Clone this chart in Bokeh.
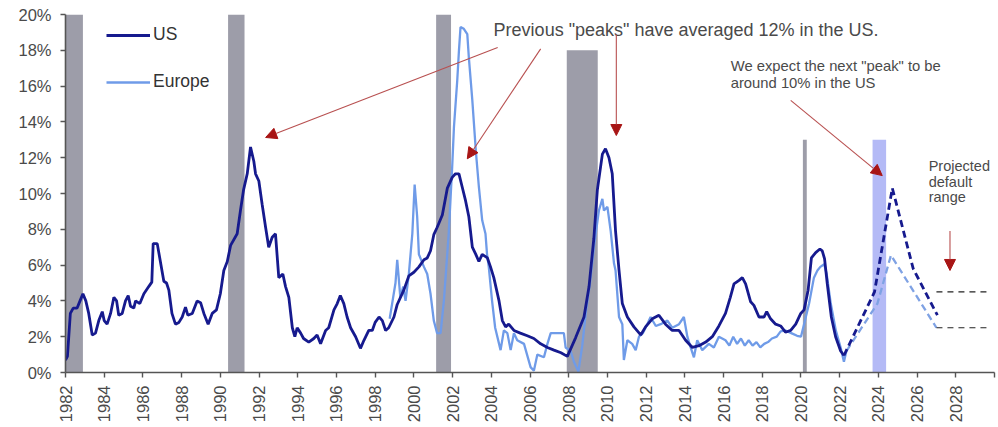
import numpy as np
from bokeh.plotting import figure
from bokeh.models import (FixedTicker, PrintfTickFormatter, Label, Arrow, NormalHead,
                          Legend, LegendItem, Range1d)
from bokeh.embed import file_html
from bokeh.resources import INLINE

# ---------------- data ----------------
us_year = [1982.0, 1982.1, 1982.25, 1982.4, 1982.6, 1982.75, 1982.9, 1983.05, 1983.2, 1983.38,
           1983.55, 1983.72, 1983.9, 1984.0, 1984.15, 1984.33, 1984.5, 1984.64, 1984.75, 1984.93,
           1985.1, 1985.24, 1985.36, 1985.53, 1985.62, 1985.84, 1986.05, 1986.3, 1986.46, 1986.53,
           1986.74, 1986.87, 1987.08, 1987.22, 1987.34, 1987.5, 1987.68, 1987.86, 1988.03, 1988.2,
           1988.32, 1988.55, 1988.8, 1988.98, 1989.15, 1989.37, 1989.58, 1989.8, 1990.0, 1990.18,
           1990.36, 1990.53, 1990.87, 1991.04, 1991.2, 1991.39, 1991.56, 1991.73, 1991.82, 1991.99,
           1992.16, 1992.34, 1992.5, 1992.68, 1992.85, 1993.02, 1993.23, 1993.37, 1993.54, 1993.72,
           1993.85, 1993.97, 1994.15, 1994.3, 1994.57, 1994.83, 1995.0, 1995.18, 1995.44, 1995.6,
           1995.87, 1996.04, 1996.2, 1996.38, 1996.55, 1996.73, 1996.99, 1997.24, 1997.42, 1997.67,
           1997.85, 1998.0, 1998.2, 1998.37, 1998.54, 1998.7, 1998.97, 1999.14, 1999.48, 1999.74,
           2000.0, 2000.26, 2000.52, 2000.69, 2000.86, 2001.03, 2001.2, 2001.47, 2001.73, 2001.98,
           2002.15, 2002.33, 2002.5, 2002.67, 2002.84, 2003.02, 2003.2, 2003.36, 2003.53, 2003.8,
           2003.96, 2004.13, 2004.4, 2004.57, 2004.74, 2004.9, 2005.17, 2005.5, 2005.86, 2006.2,
           2006.55, 2006.9, 2007.24, 2007.6, 2007.93, 2008.36, 2008.79, 2009.05, 2009.3, 2009.48,
           2009.74, 2009.9, 2010.08, 2010.25, 2010.42, 2010.6, 2010.77, 2011.03, 2011.37, 2011.72,
           2011.97, 2012.32, 2012.66, 2013.0, 2013.35, 2013.7, 2014.04, 2014.39, 2014.73, 2015.08,
           2015.42, 2015.76, 2016.1, 2016.35, 2016.54, 2016.8, 2016.97, 2017.14, 2017.4, 2017.57,
           2017.83, 2018.09, 2018.23, 2018.43, 2018.69, 2018.95, 2019.2, 2019.47, 2019.73, 2019.99,
           2020.16, 2020.37, 2020.54, 2020.76, 2020.98, 2021.1, 2021.22, 2021.36, 2021.57, 2021.79,
           2022.05, 2022.22]
us_val = [0.7, 0.9, 3.3, 3.6, 3.6, 4.0, 4.4, 4.0, 3.3, 2.1,
          2.2, 2.9, 3.4, 2.9, 2.7, 3.3, 4.2, 4.0, 3.2, 3.3,
          4.0, 4.3, 3.7, 3.6, 4.0, 3.85, 4.4, 4.8, 5.05, 7.2,
          7.2, 6.4, 5.1, 5.0, 4.6, 3.3, 2.7, 2.8, 3.1, 3.65,
          3.2, 3.3, 4.0, 3.9, 3.3, 2.7, 3.3, 3.5, 4.4, 5.7,
          6.2, 7.1, 7.75, 9.05, 10.2, 11.1, 12.6, 11.8, 11.1, 10.7,
          9.4, 8.1, 7.0, 7.56, 7.75, 5.3, 5.5, 4.8, 4.2, 2.5,
          2.0, 2.5, 2.2, 1.9, 1.7, 1.9, 2.1, 1.6, 2.35, 2.5,
          3.5, 3.85, 4.3, 3.85, 3.1, 2.5, 2.0, 1.35, 1.8, 2.35,
          2.35, 2.8, 3.1, 2.9, 2.35, 2.5, 3.1, 3.8, 4.6, 5.4,
          5.6, 5.9, 6.3, 6.4, 6.8, 7.7, 8.1, 8.8, 10.3, 10.9,
          11.1, 11.1, 10.35, 9.6, 8.7, 7.0, 6.6, 6.2, 6.6, 6.4,
          5.9, 5.3, 4.0, 2.9, 2.55, 2.7, 2.35, 2.2, 2.05, 1.9,
          1.6, 1.4, 1.25, 1.1, 0.9, 1.95, 3.1, 4.8, 7.5, 10.2,
          12.2, 12.5, 12.0, 11.1, 7.9, 5.7, 3.85, 3.1, 2.55, 2.1,
          2.55, 3.0, 3.2, 2.7, 2.35, 2.35, 1.8, 1.4, 1.5, 1.7,
          2.0, 2.6, 3.3, 4.2, 4.95, 5.15, 5.3, 4.95, 3.95, 3.75,
          3.1, 3.1, 3.4, 3.0, 2.7, 2.6, 2.25, 2.35, 2.7, 3.3,
          3.5, 4.6, 6.4, 6.7, 6.9, 6.8, 6.35, 4.95, 3.1, 2.0,
          1.2, 0.95]

eu_year = [1998.75, 1998.9, 1999.05, 1999.14, 1999.3, 1999.45, 1999.57, 1999.74, 1999.92, 2000.04,
           2000.17, 2000.26, 2000.52, 2000.69, 2000.86, 2001.03, 2001.2, 2001.38, 2001.55, 2001.8,
           2001.98, 2002.07, 2002.24, 2002.33, 2002.41, 2002.58, 2002.76, 2002.84, 2003.02, 2003.2,
           2003.36, 2003.53, 2003.7, 2003.78, 2003.87, 2004.04, 2004.2, 2004.48, 2004.65, 2004.83,
           2005.0, 2005.17, 2005.34, 2005.69, 2006.03, 2006.2, 2006.38, 2006.72, 2006.9, 2007.07,
           2007.32, 2007.75, 2007.84, 2008.1, 2008.27, 2008.5, 2008.7, 2008.9, 2009.1, 2009.3,
           2009.56, 2009.74, 2009.82, 2010.0, 2010.17, 2010.34, 2010.42, 2010.6, 2010.77, 2010.85,
           2011.03, 2011.28, 2011.46, 2011.63, 2011.83, 2012.06, 2012.23, 2012.5, 2012.75, 2013.1,
           2013.35, 2013.7, 2013.95, 2014.13, 2014.3, 2014.47, 2014.64, 2014.9, 2015.24, 2015.5,
           2015.76, 2016.1, 2016.3, 2016.5, 2016.7, 2016.9, 2017.1, 2017.3, 2017.5, 2017.7,
           2017.9, 2018.1, 2018.3, 2018.5, 2018.75, 2018.95, 2019.2, 2019.5, 2019.8, 2020.0,
           2020.16, 2020.42, 2020.67, 2020.85, 2021.0, 2021.2, 2021.33, 2021.54, 2021.8, 2022.05,
           2022.22, 2022.35]
eu_val = [3.0, 4.0, 5.0, 6.3, 4.2, 4.8, 4.0, 5.5, 7.75, 10.5,
          8.7, 6.6, 5.9, 5.5, 4.4, 2.9, 2.2, 2.2, 4.0, 7.75,
          11.5, 13.7, 16.3, 18.0, 19.3, 19.2, 18.9, 17.6, 15.2, 12.4,
          10.35, 8.5, 7.75, 6.6, 5.9, 4.0, 2.5, 1.25, 2.35, 2.2,
          1.25, 2.2, 1.8, 1.6, 0.3, 0.1, 1.0, 0.85, 1.6, 2.2,
          2.2, 2.2, 1.4, 1.2, 0.6, 0.05, 1.5, 3.5, 5.0, 7.0,
          9.05, 9.7, 9.05, 9.25, 7.9, 6.1, 5.7, 3.1, 2.7, 0.7,
          1.8, 1.6, 1.25, 2.0, 2.2, 2.7, 3.1, 2.6, 2.7, 2.9,
          2.5, 2.7, 3.1, 2.0, 1.4, 0.85, 1.8, 1.25, 1.6, 1.4,
          2.0, 1.8, 1.5, 2.0, 1.6, 1.9, 1.5, 1.8, 1.5, 1.7,
          1.4, 1.6, 1.7, 1.9, 2.0, 2.3, 2.35, 2.2, 2.05, 2.0,
          2.7, 3.85, 5.3, 5.7, 5.9, 6.05, 5.5, 3.85, 2.35, 1.4,
          0.6, 1.2]

us_proj_year = [2022.22, 2023.8, 2024.72, 2025.8, 2027.05]
us_proj_val = [0.95, 4.5, 10.3, 5.8, 3.2]
eu_proj_year = [2022.35, 2023.95, 2024.65, 2027.0]
eu_proj_val = [1.2, 3.85, 6.55, 2.5]

range_start = [2027.0, 2027.0]
range_end = [2029.75, 2029.75]
range_levels = [4.5, 2.5]

rec_start = [1982.0, 1990.4, 2001.15, 2007.9, 2020.1]
rec_end = [1982.9, 1991.25, 2001.92, 2009.5, 2020.3]
rec_top = [20, 20, 20, 18, 13]
proj_bar_start = [2023.7]
proj_bar_end = [2024.4]
proj_bar_top = [13]

x_ticks = list(range(1982, 2031, 2))
x_labels = {t: (str(t) if t <= 2028 else "") for t in x_ticks}
y_ticks = list(range(0, 21, 2))

FONT = "Liberation Sans"
TXT = "#4a4a4a"
US_C = "#161a8e"
EU_C = "#6f9be8"
ARROW_C = "#b85050"
HEAD_C = "#a81515"

# ---------------- figure ----------------
p = figure(width=998, height=427, x_range=Range1d(1982, 2030), y_range=Range1d(0, 20),
           output_backend="svg", toolbar_location=None,
           min_border_left=65, min_border_right=4, min_border_top=14, min_border_bottom=55)
p.outline_line_color = None
p.xgrid.visible = False
p.ygrid.visible = False
p.background_fill_color = "white"

p.quad(left=rec_start, right=rec_end, bottom=0, top=rec_top,
       fill_color="#9d9da9", line_color=None)
p.quad(left=proj_bar_start, right=proj_bar_end, bottom=0, top=proj_bar_top,
       fill_color="#b4baf6", line_color=None)

eu = p.line(eu_year, eu_val, line_color=EU_C, line_width=2.3)
us = p.line(us_year, us_val, line_color=US_C, line_width=2.8)
p.line(eu_proj_year, eu_proj_val, line_color="#7fa2e4", line_width=2.3, line_dash="7 4")
p.line(us_proj_year, us_proj_val, line_color=US_C, line_width=2.8, line_dash="7 4")
p.segment(x0=range_start, x1=range_end, y0=range_levels, y1=range_levels,
          line_color="#222222", line_width=1.2, line_dash="6 5")

# axes
for ax in (p.xaxis, p.yaxis):
    ax.axis_line_color = "#555555"
    ax.axis_line_width = 1.6
    ax.major_tick_line_color = "#555555"
    ax.major_tick_line_width = 1.4
    ax.major_tick_out = 5
    ax.major_tick_in = 0
    ax.minor_tick_line_color = None
    ax.major_label_text_font = FONT
    ax.major_label_text_font_size = "16.5px"
    ax.major_label_text_color = TXT
p.xaxis.major_label_standoff = 8
p.yaxis.major_label_standoff = 9
p.xaxis.ticker = FixedTicker(ticks=x_ticks)
p.xaxis.major_label_overrides = x_labels
p.xaxis.major_label_orientation = np.pi / 2
p.yaxis.ticker = FixedTicker(ticks=y_ticks)
p.yaxis.formatter = PrintfTickFormatter(format="%d%%")

# legend
legend = Legend(items=[LegendItem(label="US", renderers=[us]),
                       LegendItem(label="Europe", renderers=[eu])],
                location=(41, 280), glyph_width=44, glyph_height=20, label_height=20,
                spacing=26, padding=0, margin=0, label_standoff=3,
                border_line_color=None, background_fill_alpha=0,
                label_text_font=FONT, label_text_font_size="17.5px", label_text_color="#333333")
p.add_layout(legend)

# annotations
p.add_layout(Label(x=2004.12, y=19.16, text='Previous "peaks" have averaged 12% in the US.',
                   text_font=FONT, text_font_size="18px", text_color=TXT, text_baseline="middle"))
p.add_layout(Label(x=2016.37, y=17.15, text='We expect the next "peak" to be',
                   text_font=FONT, text_font_size="14.8px", text_color=TXT, text_baseline="middle"))
p.add_layout(Label(x=2016.37, y=16.15, text='around 10% in the US',
                   text_font=FONT, text_font_size="14.8px", text_color=TXT, text_baseline="middle"))
for t, yy in (("Projected", 11.53), ("default", 10.67), ("range", 9.8)):
    p.add_layout(Label(x=2026.6, y=yy, text=t, text_font=FONT, text_font_size="14.5px",
                       text_color=TXT, text_baseline="middle"))

arrows = [((2004.33, 18.16), (1992.34, 13.13)),
          ((2006.55, 18.08), (2002.76, 11.94)),
          ((2010.46, 18.9), (2010.46, 13.24)),
          ((2019.47, 15.2), (2024.2, 11.0)),
          ((2027.7, 7.9), (2027.7, 5.7))]
for (xs, ys), (xe, ye) in arrows:
    p.add_layout(Arrow(end=NormalHead(size=11, fill_color=HEAD_C, line_color=HEAD_C, line_width=1),
                       x_start=xs, y_start=ys, x_end=xe, y_end=ye,
                       line_color=ARROW_C, line_width=1.1))

open("out.html", "w").write(file_html(p, INLINE))
